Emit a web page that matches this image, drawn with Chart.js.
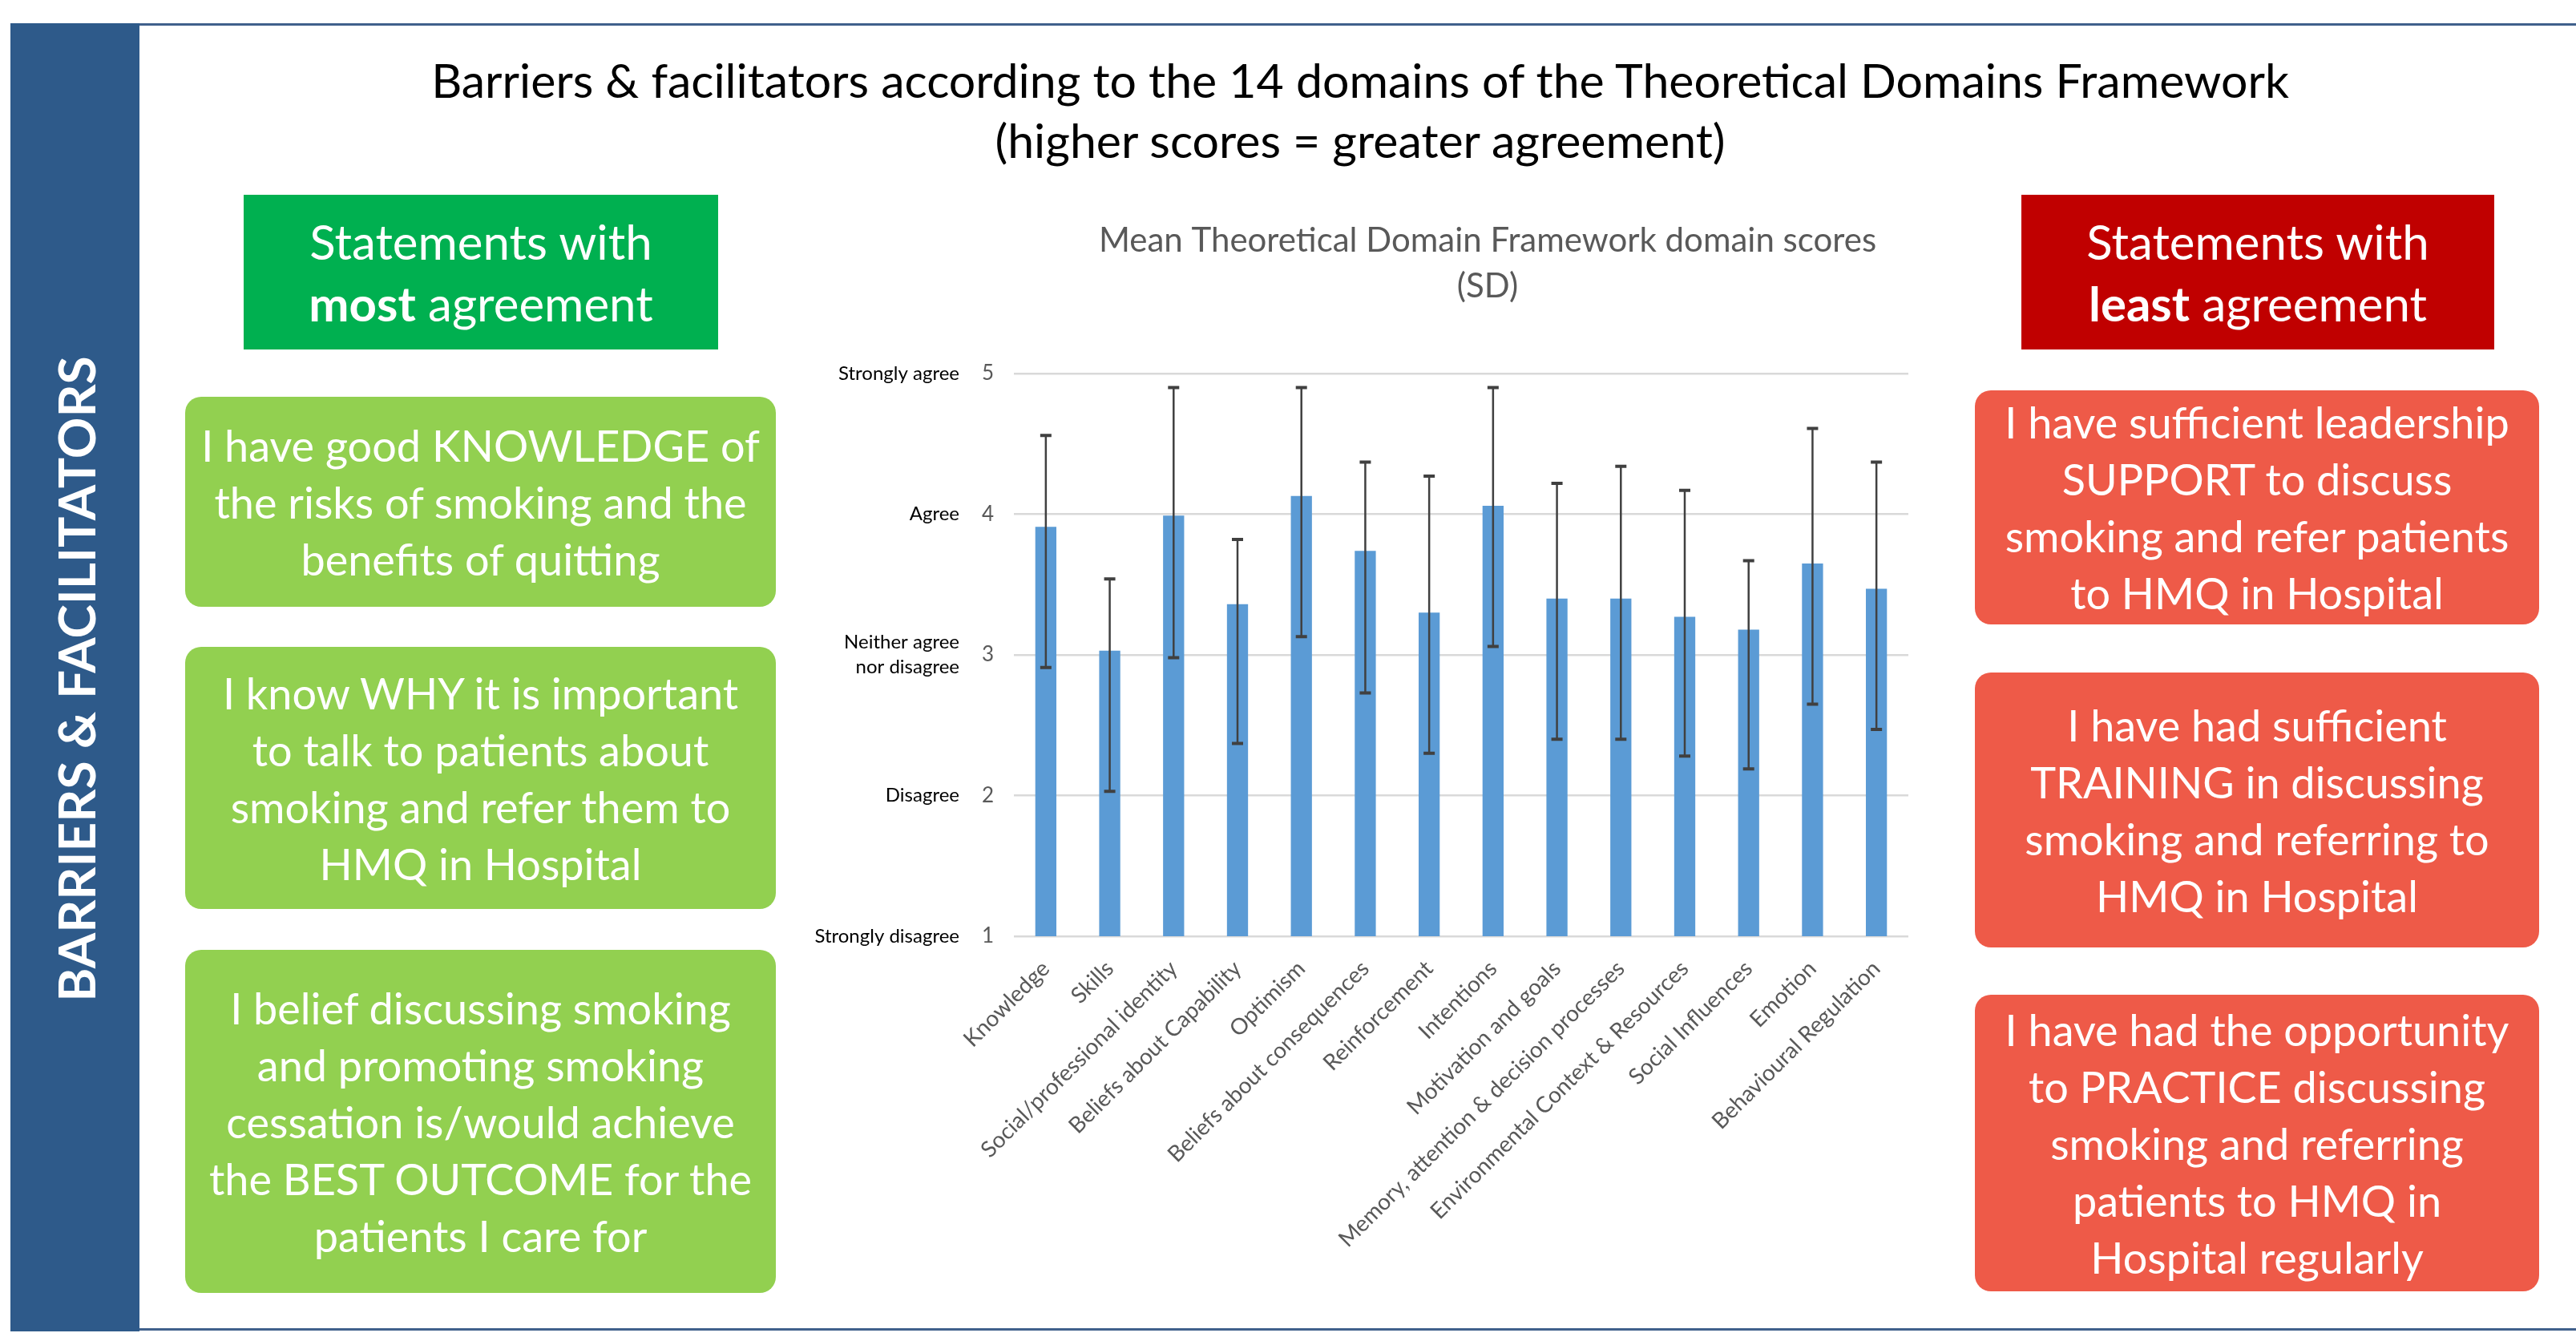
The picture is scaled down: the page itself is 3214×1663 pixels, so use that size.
<!DOCTYPE html>
<html>
<head>
<meta charset="utf-8">
<script src="https://cdn.jsdelivr.net/npm/chart.js@4.4.1/dist/chart.umd.min.js"></script>
<style>
  html, body { margin: 0; padding: 0; background: #fff; }
  body { width: 3214px; height: 1663px; position: relative; overflow: hidden; font-family: Lato, "Open Sans", sans-serif; }
  .abs { position: absolute; }
  .topline { left: 13px; top: 29px; width: 3201px; height: 3px; background: #40608C; }
  .botline { left: 13px; top: 1657px; width: 3201px; height: 3px; background: #40608C; }
  .sidebar { left: 13px; top: 29px; width: 161px; height: 1632px; background: #2E5A8A; }
  .sidetext { left: 94px; top: 847px; transform: translate(-50%, -50%) rotate(-90deg); color: #fff; font-weight: bold; font-size: 64px; white-space: nowrap; }
  .title { left: 0; width: 3394px; top: 62px; text-align: center; font-size: 59px; line-height: 75px; color: #000; }
  .box { display: flex; align-items: center; justify-content: center; text-align: center; color: #fff; }
  .head { font-size: 60px; line-height: 77px; }
  .card { font-size: 54px; line-height: 71px; border-radius: 20px; }
  .green { background: #92D050; }
  .red { background: #EE5A48; }
  #chart { position: absolute; left: 1000px; top: 250px; }
</style>
</head>
<body>
<canvas id="chart" width="1710" height="1390"></canvas>

<div class="abs topline"></div>
<div class="abs botline"></div>
<div class="abs sidebar"></div>
<div class="abs sidetext">BARRIERS &amp; FACILITATORS</div>

<div class="abs title">Barriers &amp; facilitators according to the 14 domains of the Theoretical Domains Framework<br>(higher scores = greater agreement)</div>

<div class="abs box head" style="left:304px;top:243px;width:592px;height:193px;background:#00B050;">
  <div>Statements with<br><b>most</b> agreement</div>
</div>
<div class="abs box head" style="left:2522px;top:243px;width:590px;height:193px;background:#C00000;">
  <div>Statements with<br><b>least</b> agreement</div>
</div>

<div class="abs box card green" style="left:231px;top:495px;width:737px;height:262px;">
  <div>I have good KNOWLEDGE of<br>the risks of smoking and the<br>benefits of quitting</div>
</div>
<div class="abs box card green" style="left:231px;top:807px;width:737px;height:327px;">
  <div>I know WHY it is important<br>to talk to patients about<br>smoking and refer them to<br>HMQ in Hospital</div>
</div>
<div class="abs box card green" style="left:231px;top:1185px;width:737px;height:428px;">
  <div>I belief discussing smoking<br>and promoting smoking<br>cessation is/would achieve<br>the BEST OUTCOME for the<br>patients I care for</div>
</div>

<div class="abs box card red" style="left:2464px;top:487px;width:704px;height:292px;">
  <div>I have sufficient leadership<br>SUPPORT to discuss<br>smoking and refer patients<br>to HMQ in Hospital</div>
</div>
<div class="abs box card red" style="left:2464px;top:839px;width:704px;height:343px;">
  <div>I have had sufficient<br>TRAINING in discussing<br>smoking and referring to<br>HMQ in Hospital</div>
</div>
<div class="abs box card red" style="left:2464px;top:1241px;width:704px;height:370px;">
  <div>I have had the opportunity<br>to PRACTICE discussing<br>smoking and referring<br>patients to HMQ in<br>Hospital regularly</div>
</div>

<script>
// data
const domains = ['Knowledge', 'Skills', 'Social/professional identity', 'Beliefs about Capability',
  'Optimism', 'Beliefs about consequences', 'Reinforcement', 'Intentions', 'Motivation and goals',
  'Memory, attention & decision processes', 'Environmental Context & Resources', 'Social Influences',
  'Emotion', 'Behavioural Regulation'];
const meanScores = [3.91, 3.03, 3.99, 3.36, 4.13, 3.74, 3.30, 4.06, 3.40, 3.40, 3.27, 3.18, 3.65, 3.47];
const barTop = [4.56, 3.54, 4.90, 3.82, 4.90, 4.37, 4.27, 4.90, 4.22, 4.34, 4.17, 3.67, 4.61, 4.37];
const barBottom = [2.91, 2.03, 2.98, 2.37, 3.13, 2.73, 2.30, 3.06, 2.40, 2.40, 2.28, 2.19, 2.65, 2.47];
const scaleValues = [1, 2, 3, 4, 5];
const scaleWords = [['Strongly disagree'], ['Disagree'], ['Neither agree', 'nor disagree'], ['Agree'], ['Strongly agree']];
const chartTitle = ['Mean Theoretical Domain Framework domain scores', '(SD)'];

const FONT = 'Lato, "Open Sans", sans-serif';
Chart.defaults.font.family = FONT;

// error bars (SD whiskers)
const sdBars = {
  id: 'sdBars',
  afterDatasetsDraw(chart) {
    const y = chart.scales.y;
    const meta = chart.getDatasetMeta(0);
    const ctx = chart.ctx;
    ctx.save();
    ctx.strokeStyle = '#404040';
    meta.data.forEach((bar, i) => {
      const top = y.getPixelForValue(barTop[i]);
      const bot = y.getPixelForValue(barBottom[i]);
      ctx.lineWidth = 2.5;
      ctx.beginPath();
      ctx.moveTo(bar.x, top);
      ctx.lineTo(bar.x, bot);
      ctx.stroke();
      ctx.lineWidth = 4;
      ctx.beginPath();
      ctx.moveTo(bar.x - 7, top);
      ctx.lineTo(bar.x + 7, top);
      ctx.moveTo(bar.x - 7, bot);
      ctx.lineTo(bar.x + 7, bot);
      ctx.stroke();
    });
    ctx.restore();
  }
};

// worded labels next to the numbers on the y axis, plus the chart title
const extraText = {
  id: 'extraText',
  afterDraw(chart) {
    const y = chart.scales.y;
    const ctx = chart.ctx;
    ctx.save();
    ctx.fillStyle = '#000';
    ctx.font = '24px ' + FONT;
    ctx.textAlign = 'right';
    ctx.textBaseline = 'middle';
    scaleValues.forEach((v, i) => {
      const lines = scaleWords[i];
      const py = y.getPixelForValue(v);
      lines.forEach((t, j) => {
        ctx.fillText(t, y.right - 68, py + (j - (lines.length - 1) / 2) * 31);
      });
    });

    const a = chart.chartArea;
    ctx.fillStyle = '#595959';
    ctx.font = '42px ' + FONT;
    ctx.textAlign = 'center';
    const cx = (a.left + a.right) / 2 + 33;
    chartTitle.forEach((t, j) => ctx.fillText(t, cx, a.top - 166 + j * 57));
    ctx.restore();
  }
};

new Chart(document.getElementById('chart'), {
  type: 'bar',
  data: {
    labels: domains,
    datasets: [{
      data: meanScores,
      backgroundColor: '#5B9BD5',
      categoryPercentage: 1,
      barPercentage: 0.33
    }]
  },
  options: {
    responsive: false,
    animation: false,
    layout: { padding: { left: 0, right: 329, top: 216, bottom: 0 } },
    plugins: {
      legend: { display: false },
      tooltip: { enabled: false },
      title: { display: false }
    },
    scales: {
      y: {
        min: 1,
        max: 5,
        afterFit(scale) { scale.width = 265; },
        border: { display: false },
        grid: { color: '#D9D9D9', lineWidth: 2.5, drawTicks: false },
        ticks: {
          stepSize: 1,
          padding: 25,
          color: '#595959',
          font: { size: 26 }
        }
      },
      x: {
        afterFit(scale) { scale.height = 472; },
        border: { display: false },
        grid: { display: false },
        ticks: {
          autoSkip: false,
          minRotation: 45,
          maxRotation: 45,
          padding: 16,
          color: '#595959',
          font: { size: 28 }
        }
      }
    }
  },
  plugins: [sdBars, extraText]
});
</script>
</body>
</html>
